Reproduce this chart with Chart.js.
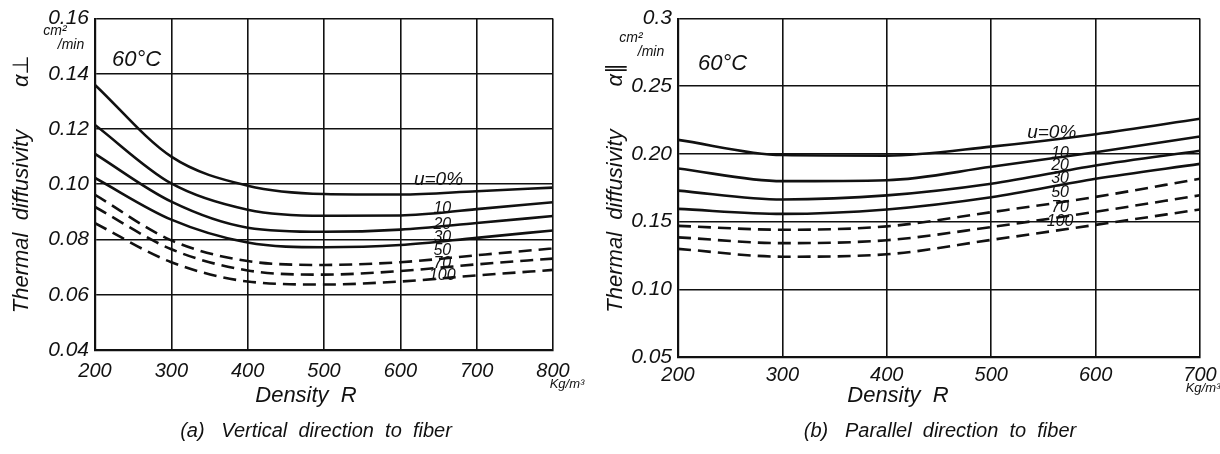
<!DOCTYPE html>
<html>
<head>
<meta charset="utf-8">
<script src="https://cdn.jsdelivr.net/npm/chart.js@4.4.1/dist/chart.umd.min.js"></script>
<style>
  html,body{margin:0;padding:0;background:#fff;}
  #wrap{position:relative;width:1220px;height:454px;overflow:hidden;}
  .box{position:absolute;top:0;height:454px;}
  #boxA{left:0;width:600px;}
  #boxB{left:600px;width:620px;}
</style>
</head>
<body>
<div id="wrap">
  <div class="box" id="boxA"><canvas id="chartA"></canvas></div>
  <div class="box" id="boxB"><canvas id="chartB"></canvas></div>
</div>
<script>
/* ---------- data : (a) vertical direction ---------- */
const densityA   = [200, 300, 400, 500, 600, 700, 800];
const alphaA_u0  = [0.1360, 0.1100, 0.0995, 0.0965, 0.0963, 0.0975, 0.0988];
const alphaA_u10 = [0.1215, 0.1003, 0.0908, 0.0886, 0.0887, 0.0910, 0.0935];
const alphaA_u20 = [0.1110, 0.0937, 0.0843, 0.0828, 0.0836, 0.0860, 0.0885];
const alphaA_u30 = [0.1023, 0.0872, 0.0789, 0.0772, 0.0780, 0.0806, 0.0833];
const alphaA_u50 = [0.0962, 0.0797, 0.0722, 0.0708, 0.0718, 0.0743, 0.0768];
const alphaA_u70 = [0.0918, 0.0765, 0.0688, 0.0673, 0.0686, 0.0710, 0.0731];
const alphaA_u100= [0.0859, 0.0718, 0.0648, 0.0637, 0.0648, 0.0670, 0.0690];
const yTicksA    = ['0.04','0.06','0.08','0.10','0.12','0.14','0.16'];

/* ---------- data : (b) parallel direction ---------- */
const densityB   = [200, 300, 400, 500, 600, 700];
const alphaB_u0  = [0.2104, 0.1992, 0.1988, 0.2054, 0.2146, 0.2260];
const alphaB_u10 = [0.1893, 0.1799, 0.1806, 0.1905, 0.2012, 0.2129];
const alphaB_u20 = [0.1729, 0.1664, 0.1694, 0.1780, 0.1915, 0.2024];
const alphaB_u30 = [0.1594, 0.1557, 0.1590, 0.1680, 0.1817, 0.1927];
const alphaB_u50 = [0.1469, 0.1440, 0.1465, 0.1570, 0.1683, 0.1817];
const alphaB_u70 = [0.1384, 0.1341, 0.1363, 0.1460, 0.1573, 0.1695];
const alphaB_u100= [0.1299, 0.1241, 0.1259, 0.1365, 0.1476, 0.1590];
const yTicksB    = ['0.05','0.10','0.15','0.20','0.25','0.3'];

const moisture = ['u=0%','10','20','30','50','70','100'];

/* ---------- look ---------- */
const INK  = '#111';
const FONT = "'Liberation Sans Narrow','Liberation Sans','DejaVu Sans',sans-serif";

function makeSets(xs, series){
  return series.map((ys,i)=>({
    label: moisture[i],
    data: xs.map((x,j)=>({x, y: ys[j]})),
    borderColor: INK, borderWidth: 2.6,
    borderDash: i>=4 ? [13,7] : [],
    pointRadius: 0, fill: false,
    cubicInterpolationMode: 'monotone'
  }));
}

/* 곡선 라벨, 60°C, 단위, 축 제목, 캡션 */
const notesPlugin = {
  id: 'notes',
  afterDraw(chart, args, o){
    const {ctx, chartArea:a, scales:{x, y}} = chart;
    ctx.save();
    ctx.fillStyle = INK;
    ctx.textBaseline = 'middle';
    ctx.textAlign = 'center';
    o.tags.forEach((t,i)=>{
      ctx.font = 'italic ' + (i===0 ? 19 : 16) + 'px ' + FONT;
      ctx.fillText(moisture[i], x.getPixelForValue(t[0]), y.getPixelForValue(t[1]));
    });
    ctx.font = 'italic 22px ' + FONT;
    ctx.textAlign = 'left';
    ctx.fillText('60°C', a.left + o.temp[0], a.top + o.temp[1]);
    ctx.textAlign = 'center';
    ctx.font = 'italic 14px ' + FONT;
    ctx.fillText('cm²',  a.left + o.cm[0],  a.top + o.cm[1]);
    ctx.fillText('/min', a.left + o.min[0], a.top + o.min[1]);
    ctx.font = 'italic 13px ' + FONT;
    ctx.fillText('Kg/m³', a.right + o.kg[0], a.bottom + o.kg[1]);
    ctx.font = 'italic 22px ' + FONT;
    ctx.fillText('Density  R', o.xTitle[0], o.xTitle[1]);
    ctx.font = 'italic 20px ' + FONT;
    ctx.fillText(o.caption, o.capPos[0], o.capPos[1]);
    ctx.restore();
  }
};

function makeChart(id, xs, series, xMax, yMin, yMax, yStep, yLabels, yTitle, yW, xH, tickPad, pad, titlePad, notes){
  return new Chart(document.getElementById(id), {
    type: 'line',
    data: { datasets: makeSets(xs, series) },
    options: {
      responsive: true, maintainAspectRatio: false, animation: false,
      devicePixelRatio: 1,
      layout: { padding: pad },
      plugins: { legend:{display:false}, tooltip:{enabled:false}, notes },
      scales: {
        x: {
          type: 'linear', min: 200, max: xMax,
          afterFit: s => { s.height = xH; s.paddingRight = 0; s.paddingLeft = 0; },
          ticks: { stepSize: 100, color: INK, padding: tickPad, font:{family:FONT, size:20, style:'italic'} },
          grid: { color: INK, lineWidth: 1.6, drawTicks: false },
          border: { color: INK, width: 2.2 }
        },
        y: {
          min: yMin, max: yMax,
          afterFit: s => { s.width = yW; },
          ticks: {
            stepSize: yStep, color: INK, padding: 6,
            font: {family:FONT, size:21, style:'italic'},
            callback: (v,i) => yLabels[i]
          },
          grid: { color: INK, lineWidth: 1.6, drawTicks: false },
          border: { color: INK, width: 2.2 },
          title: { display: true, text: yTitle, color: INK, padding: {top: titlePad, bottom: 0},
                   font: {family:FONT, size:22, style:'italic'} }
        }
      }
    },
    plugins: [notesPlugin]
  });
}

makeChart('chartA', densityA,
  [alphaA_u0, alphaA_u10, alphaA_u20, alphaA_u30, alphaA_u50, alphaA_u70, alphaA_u100],
  800, 0.04, 0.16, 0.02, yTicksA, 'Thermal  diffusivity       α⊥', 95, 65, 9,
  {top:16, right:47, bottom:39, left:0}, 9,
  { tags: [[650,0.1015],[655,0.0914],[655,0.0856],[655,0.0806],[655,0.0759],[655,0.0713],[655,0.0670]],
    temp: [17, 41], cm: [-40, 13], min: [-24, 27], kg: [14, 34],
    xTitle: [306, 396], caption: '(a)   Vertical  direction  to  fiber', capPos: [316, 431] });

makeChart('chartB', densityB,
  [alphaB_u0, alphaB_u10, alphaB_u20, alphaB_u30, alphaB_u50, alphaB_u70, alphaB_u100],
  700, 0.05, 0.30, 0.05, yTicksB, 'Thermal  diffusivity       α∥', 78, 58, 6,
  {top:13, right:20, bottom:39, left:0}, 3,
  { tags: [[558,0.2157],[566,0.2004],[566,0.1917],[566,0.1815],[566,0.1714],[566,0.1605],[566,0.1503]],
    temp: [20, 45], cm: [-47, 20], min: [-27, 34], kg: [3, 31],
    xTitle: [298, 396], caption: '(b)   Parallel  direction  to  fiber', capPos: [340, 431] });
</script>
</body>
</html>
